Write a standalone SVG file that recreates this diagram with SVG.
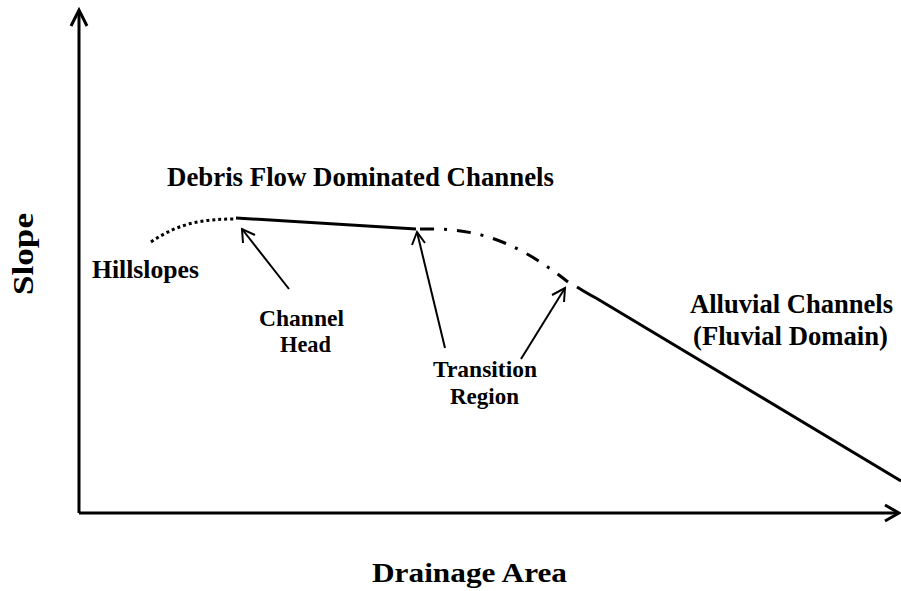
<svg xmlns="http://www.w3.org/2000/svg" width="901" height="591" viewBox="0 0 901 591">
<defs>
<style>
text{font-family:'Liberation Serif','Times New Roman',Times,serif;font-weight:700;fill:#000}
.ax{stroke:#000;stroke-width:3;fill:none}
.ar{stroke:#000;stroke-width:2;fill:none}
.cv{stroke:#000;stroke-width:3;fill:none}
</style>
</defs>
<rect width="901" height="591" fill="#fff"/>
<g id="axes">
<path class="ax" d="M79,513 V11"/>
<path class="ax" d="M71,26 L79,10 L87,26"/>
<path class="ax" d="M79,513 H899"/>
<path class="ax" d="M885,505 L899,513 L885,521"/>
</g>
<g id="profile">
<path class="cv" stroke-dasharray="3,3" d="M151,242 C180,222 205,219 236,219"/>
<path class="cv" d="M236,218 L416,229"/>
<path class="cv" stroke-dasharray="14,10,3,10" d="M420,229 C470,228 510,236 568,282"/>
<path class="cv" d="M577,287 C585,292 590,295 596,298 L901,481"/>
</g>
<g id="connectors">
<path class="ar" d="M289,289 L242,229"/>
<path class="ar" d="M243,243 L242,229 L255,235"/>
<path class="ar" d="M445,348 L417,232"/>
<path class="ar" d="M412,245 L417,232 L425,243"/>
<path class="ar" d="M521,359 L565,288"/>
<path class="ar" d="M552,295 L565,288 L564,302"/>
</g>
<g id="labels">
<text x="167" y="186" font-size="28" textLength="387" lengthAdjust="spacingAndGlyphs">Debris Flow Dominated Channels</text>
<text x="92" y="278" font-size="26" textLength="107" lengthAdjust="spacingAndGlyphs">Hillslopes</text>
<text x="259" y="326" font-size="24" textLength="85" lengthAdjust="spacingAndGlyphs">Channel</text>
<text x="280" y="352" font-size="24" textLength="51" lengthAdjust="spacingAndGlyphs">Head</text>
<text x="433" y="377" font-size="24" textLength="104" lengthAdjust="spacingAndGlyphs">Transition</text>
<text x="450" y="404" font-size="24" textLength="69" lengthAdjust="spacingAndGlyphs">Region</text>
<text x="690" y="313" font-size="27" textLength="203" lengthAdjust="spacingAndGlyphs">Alluvial Channels</text>
<text x="693" y="345" font-size="27" textLength="195" lengthAdjust="spacingAndGlyphs">(Fluvial Domain)</text>
<text x="372" y="582" font-size="28" textLength="195" lengthAdjust="spacingAndGlyphs">Drainage Area</text>
<text transform="translate(33,254) rotate(-90)" x="0" y="0" text-anchor="middle" font-size="30" textLength="82" lengthAdjust="spacingAndGlyphs">Slope</text>
</g>
</svg>
